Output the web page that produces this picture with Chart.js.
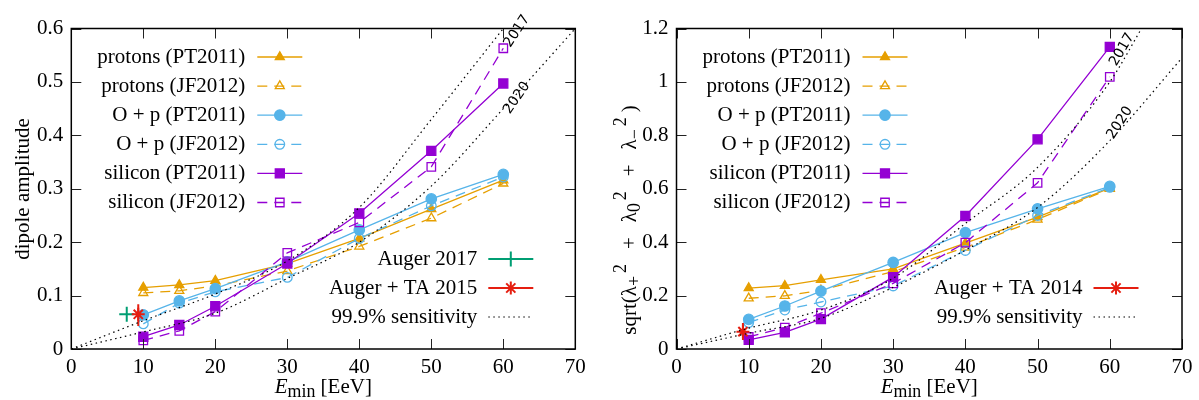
<!DOCTYPE html>
<html>
<head>
<meta charset="utf-8">
<title>dipole amplitude vs Emin</title>
<script src="https://cdn.jsdelivr.net/npm/chart.js@4.4.1/dist/chart.umd.min.js"></script>
<style>
  body { margin: 0; background: #fff; }
  #wrap { position: relative; width: 1199px; height: 400px; }
  canvas { position: absolute; top: 0; }
  #dipoleChart { left: 0; }
  #lambdaChart { left: 600px; }
</style>
</head>
<body>
<div id="wrap">
  <canvas id="dipoleChart" width="600" height="400"></canvas>
  <canvas id="lambdaChart" width="599" height="400"></canvas>
</div>
<script>
// values
const energies = [10, 15, 20, 30, 40, 50, 60];

// left panel: dipole amplitude
const dipoleProtonsPT = [0.115, 0.120, 0.128, 0.160, 0.207, 0.262, 0.316];
const dipoleProtonsJF = [0.105, 0.109, 0.118, 0.146, 0.192, 0.245, 0.310];
const dipoleOxygenPT  = [0.064, 0.090, 0.113, 0.163, 0.223, 0.281, 0.327];
const dipoleOxygenJF  = [0.047, 0.086, 0.107, 0.134, 0.207, 0.268, 0.322];
const dipoleSiliconPT = [0.023, 0.045, 0.080, 0.160, 0.254, 0.371, 0.497];
const dipoleSiliconJF = [0.016, 0.034, 0.070, 0.180, 0.237, 0.341, 0.563];

// right panel: sqrt(l+^2 + l0^2 + l-^2)
const lambdaProtonsPT = [0.228, 0.237, 0.259, 0.300, 0.396, 0.494, 0.602];
const lambdaProtonsJF = [0.190, 0.199, 0.220, 0.290, 0.380, 0.485, 0.600];
const lambdaOxygenPT  = [0.111, 0.161, 0.217, 0.324, 0.436, 0.525, 0.609];
const lambdaOxygenJF  = [0.099, 0.146, 0.176, 0.236, 0.369, 0.500, 0.605];
const lambdaSiliconPT = [0.034, 0.062, 0.112, 0.269, 0.498, 0.785, 1.131];
const lambdaSiliconJF = [0.045, 0.080, 0.134, 0.246, 0.398, 0.622, 1.019];

// measurements
const auger2017E = [7.7];
const auger2017Dipole = [0.065];
const augerTa2015E = [9.3];
const augerTa2015Dipole = [0.065];
const augerTa2015Err = [0.043, 0.084];
const augerTa2014E = [9.2];
const augerTa2014Lambda = [0.065];
const augerTa2014Err = [0.034, 0.097];

// 99.9% sensitivity curves
const sensE = [0, 10, 20, 30, 40, 50, 60, 70];
const dipoleSens2017 = [0, 0.053, 0.103, 0.165, 0.265, 0.43, 0.6];
const dipoleSens2020 = [0, 0.032, 0.067, 0.132, 0.2, 0.305, 0.45, 0.6];
const lambdaSens2017E = [0, 10, 20, 30, 40, 50, 60, 64.4];
const lambdaSens2017 = [0, 0.078, 0.146, 0.265, 0.47, 0.68, 1.0, 1.2];
const lambdaSens2020 = [0, 0.059, 0.115, 0.231, 0.37, 0.53, 0.78, 1.09];

const ORANGE = '#e69f00', BLUE = '#56b4e9', PURPLE = '#9400d3', GREEN = '#009e73', RED = '#e51e10';
const SERIF = "'Liberation Serif', 'Times New Roman', serif";
const SANS = "'DejaVu Sans', sans-serif";

function pts(xs, ys) {
  return ys.map((y, i) => ({ x: xs[i], y: y }));
}

function series(label, values, color, style, radius, filled, dashed) {
  return {
    label: label,
    data: pts(energies, values),
    showLine: true,
    borderColor: color,
    borderWidth: 1.3,
    borderDash: dashed ? [10, 7] : [],
    pointStyle: style,
    pointRadius: radius,
    pointBorderColor: color,
    pointBorderWidth: 1.3,
    pointBackgroundColor: filled ? color : 'rgba(0,0,0,0)'
  };
}

function sensitivity(label, xs, ys) {
  return {
    label: label,
    data: pts(xs, ys),
    showLine: true,
    borderColor: '#000',
    borderWidth: 1.2,
    borderDash: [1.5, 3.5],
    pointRadius: 0,
    cubicInterpolationMode: 'monotone'
  };
}

function marker(label, xs, ys, color, style, radius) {
  return {
    label: label,
    data: pts(xs, ys),
    showLine: false,
    borderColor: color,
    pointStyle: style,
    pointRadius: radius,
    pointBorderColor: color,
    pointBorderWidth: 2,
    pointBackgroundColor: color,
    keyWidth: 2
  };
}

function errorBar(x, err, color) {
  return {
    label: 'err',
    data: [{ x: x, y: err[0] }, { x: x, y: err[1] }],
    showLine: true,
    borderColor: color,
    borderWidth: 2,
    pointRadius: 0
  };
}

function modelSets(pPT, pJF, oPT, oJF, sPT, sJF) {
  return [
    series('protons (PT2011)', pPT, ORANGE, 'triangle', 5.2, true, false),
    series('protons (JF2012)', pJF, ORANGE, 'triangle', 5.2, false, true),
    series('O + p (PT2011)', oPT, BLUE, 'circle', 5.2, true, false),
    series('O + p (JF2012)', oJF, BLUE, 'circle', 4.8, false, true),
    series('silicon (PT2011)', sPT, PURPLE, 'rect', 6.4, true, false),
    series('silicon (JF2012)', sJF, PURPLE, 'rect', 6, false, true)
  ];
}

// datasets of the left panel
const dipoleSets = modelSets(dipoleProtonsPT, dipoleProtonsJF, dipoleOxygenPT,
                             dipoleOxygenJF, dipoleSiliconPT, dipoleSiliconJF);
dipoleSets.push(marker('Auger 2017', auger2017E, auger2017Dipole, GREEN, 'cross', 7.5));
dipoleSets.push(errorBar(augerTa2015E[0], augerTa2015Err, RED));
dipoleSets.push(marker('Auger + TA 2015', augerTa2015E, augerTa2015Dipole, RED, 'star', 6.5));
dipoleSets.push(sensitivity('99.9% sensitivity', sensE, dipoleSens2017));
dipoleSets.push(sensitivity('2020', sensE, dipoleSens2020));

// datasets of the right panel
const lambdaSets = modelSets(lambdaProtonsPT, lambdaProtonsJF, lambdaOxygenPT,
                             lambdaOxygenJF, lambdaSiliconPT, lambdaSiliconJF);
lambdaSets.push(errorBar(augerTa2014E[0], augerTa2014Err, RED));
lambdaSets.push(marker('Auger + TA 2014', augerTa2014E, augerTa2014Lambda, RED, 'star', 6.5));
lambdaSets.push(sensitivity('99.9% sensitivity', lambdaSens2017E, lambdaSens2017));
lambdaSets.push(sensitivity('2020', sensE, lambdaSens2020));

// later datasets on top, like gnuplot
[dipoleSets, lambdaSets].forEach(sets => sets.forEach((d, i) => { d.order = sets.length - i; }));

// rich text (italic, sub, sup, extra gap before a piece)
function drawRich(ctx, segs, cx, cy, size, vertical) {
  ctx.save();
  ctx.translate(cx, cy);
  if (vertical) ctx.rotate(-Math.PI / 2);
  const parts = segs.map(s => {
    const sz = (s.sub || s.sup) ? size * 0.85 : size;
    const font = (s.italic ? 'italic ' : '') + sz + 'px ' + SERIF;
    ctx.font = font;
    return { t: s.t, sub: s.sub, sup: s.sup, gap: s.gap || 0, font: font, w: ctx.measureText(s.t).width };
  });
  const total = parts.reduce((a, p) => a + p.w + p.gap, 0);
  let x = -total / 2;
  ctx.fillStyle = '#000';
  ctx.textAlign = 'left';
  ctx.textBaseline = 'alphabetic';
  parts.forEach(p => {
    let dy = size * 0.33;
    if (p.sub) dy += size * 0.2;
    if (p.sup) dy -= size * 0.45;
    x += p.gap;
    ctx.font = p.font;
    ctx.fillText(p.t, x, dy);
    x += p.w;
  });
  ctx.restore();
}

function drawMarker(ctx, ds, x, y) {
  if (!ds.pointRadius) return;
  ctx.save();
  ctx.setLineDash([]);
  ctx.strokeStyle = ds.pointBorderColor;
  ctx.fillStyle = ds.pointBackgroundColor;
  ctx.lineWidth = ds.pointBorderWidth;
  Chart.helpers.drawPoint(ctx, {
    pointStyle: ds.pointStyle, radius: ds.pointRadius, rotation: 0, borderWidth: ds.pointBorderWidth
  }, x, y);
  ctx.restore();
}

// frame, inward ticks, key, titles, curve labels
const gnuplotLook = {
  id: 'gnuplotLook',
  afterDraw(chart, args, opts) {
    const ctx = chart.ctx;
    const a = chart.chartArea;
    const xs = chart.scales.x, ys = chart.scales.y;
    ctx.save();

    ctx.strokeStyle = '#222';
    ctx.lineWidth = 1;
    ctx.setLineDash([]);
    ctx.beginPath();
    xs.ticks.forEach(t => {
      const px = Math.round(xs.getPixelForValue(t.value)) + 0.5;
      ctx.moveTo(px, a.bottom); ctx.lineTo(px, a.bottom - 10);
      ctx.moveTo(px, a.top); ctx.lineTo(px, a.top + 10);
    });
    ys.ticks.forEach(t => {
      const py = Math.round(ys.getPixelForValue(t.value)) + 0.5;
      ctx.moveTo(a.left, py); ctx.lineTo(a.left + 10, py);
      ctx.moveTo(a.right, py); ctx.lineTo(a.right - 10, py);
    });
    ctx.stroke();

    ctx.strokeStyle = '#000';
    ctx.lineWidth = 1.5;
    ctx.strokeRect(a.left, a.top, a.right - a.left, a.bottom - a.top);

    // curve labels
    ctx.fillStyle = '#000';
    ctx.font = '14px ' + SANS;
    ctx.textAlign = 'center';
    ctx.textBaseline = 'middle';
    opts.curveLabels.forEach(c => {
      ctx.save();
      ctx.translate(xs.getPixelForValue(c.x), ys.getPixelForValue(c.y));
      ctx.rotate(c.angle * Math.PI / 180);
      ctx.fillText(c.text, 0, 0);
      ctx.restore();
    });

    // key
    ctx.font = '21px ' + SERIF;
    ctx.textAlign = 'right';
    ctx.textBaseline = 'middle';
    opts.key.forEach(k => {
      const ds = chart.data.datasets[k.ds];
      const col = opts.keyCols[k.col];
      const x0 = a.left + col.line;
      ctx.fillStyle = '#000';
      ctx.fillText(ds.label, a.left + col.text, k.y);
      ctx.save();
      ctx.strokeStyle = ds.borderColor;
      ctx.lineWidth = ds.keyWidth || ds.borderWidth;
      ctx.setLineDash(ds.borderDash || []);
      ctx.beginPath();
      ctx.moveTo(x0, k.y);
      ctx.lineTo(x0 + 45, k.y);
      ctx.stroke();
      ctx.restore();
      drawMarker(ctx, ds, x0 + 22.5, k.y);
    });

    // axis titles
    drawRich(ctx, opts.xTitle, (a.left + a.right) / 2, 386, 21, false);
    drawRich(ctx, opts.yTitle, opts.yTitleX, opts.yTitleY, 21, true);
    ctx.restore();
  }
};

function makeChart(id, datasets, yMax, yStep, yAxisWidth, padRight, look) {
  const tickFont = { family: SERIF, size: 21 };
  return new Chart(document.getElementById(id), {
    type: 'scatter',
    data: { datasets: datasets },
    options: {
      responsive: false,
      animation: false,
      devicePixelRatio: 1,
      layout: { padding: { top: 28.5, right: padRight, bottom: 0, left: 0 } },
      scales: {
        x: {
          type: 'linear', min: 0, max: 70,
          ticks: { stepSize: 10, font: tickFont, color: '#000', padding: 6, maxRotation: 0 },
          grid: { display: false, drawTicks: false },
          border: { display: false },
          afterFit: s => { s.height = 51; }
        },
        y: {
          type: 'linear', min: 0, max: yMax,
          ticks: {
            stepSize: yStep, font: tickFont, color: '#000', padding: 8,
            callback: v => String(Math.round(v * 10) / 10)
          },
          grid: { display: false, drawTicks: false },
          border: { display: false },
          afterFit: s => { s.width = yAxisWidth; }
        }
      },
      plugins: {
        legend: { display: false },
        tooltip: { enabled: false },
        gnuplotLook: look
      }
    },
    plugins: [gnuplotLook]
  });
}

const keyCols = [{ text: 174, line: 186 }, { text: 406, line: 417 }];
const modelKey = [0, 1, 2, 3, 4, 5].map(i => ({ ds: i, col: 0, y: 57 + i * 29.1 }));
const xTitle = [{ t: 'E', italic: true }, { t: 'min', sub: true }, { t: ' [EeV]' }];

makeChart('dipoleChart', dipoleSets, 0.6, 0.1, 71.3, 24.7, {
  key: modelKey.concat([
    { ds: 6, col: 1, y: 259 },
    { ds: 8, col: 1, y: 288 },
    { ds: 9, col: 1, y: 317 }
  ]),
  keyCols: keyCols,
  xTitle: xTitle,
  yTitle: [{ t: 'dipole amplitude' }],
  yTitleX: 22.5,
  yTitleY: 189,
  curveLabels: [
    { text: '2017', x: 61.9, y: 0.595, angle: -57 },
    { text: '2020', x: 61.9, y: 0.47, angle: -55 }
  ]
});

makeChart('lambdaChart', lambdaSets, 1.2, 0.2, 76.5, 17, {
  key: modelKey.concat([
    { ds: 7, col: 1, y: 288 },
    { ds: 8, col: 1, y: 317 }
  ]),
  keyCols: keyCols,
  xTitle: xTitle,
  yTitle: [
    { t: 'sqrt(λ' }, { t: '+', sub: true }, { t: '2', sup: true, gap: 3 },
    { t: '+', gap: 15 }, { t: 'λ', gap: 15 }, { t: '0', sub: true }, { t: '2', sup: true, gap: 3 },
    { t: '+', gap: 15 }, { t: 'λ', gap: 15 }, { t: '−', sub: true }, { t: '2', sup: true, gap: 3 },
    { t: ')', gap: 5 }
  ],
  yTitleX: 29,
  yTitleY: 220,
  curveLabels: [
    { text: '2017', x: 61.7, y: 1.121, angle: -60 },
    { text: '2020', x: 61.4, y: 0.847, angle: -57 }
  ]
});
</script>
</body>
</html>
